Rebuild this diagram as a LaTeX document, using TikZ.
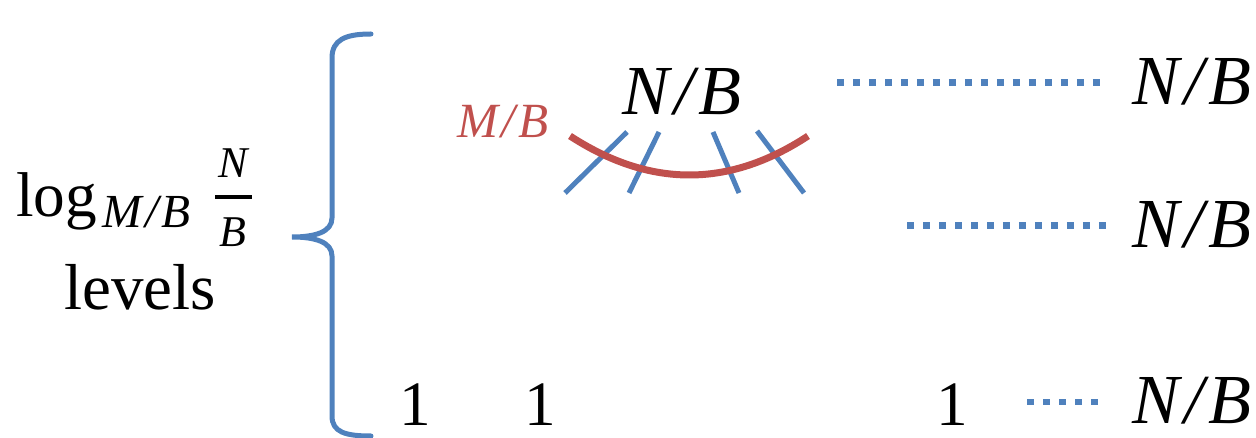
\documentclass[tikz,border=0pt]{standalone}
\usepackage{fontspec}
\setmainfont{Liberation Serif}
\definecolor{oblue}{HTML}{4F81BD}
\definecolor{ored}{HTML}{C0504D}
\newcommand{\myslash}{\kern0.07em/\kern0.07em}
\begin{document}
\begin{tikzpicture}[x=0.02cm,y=-0.02cm,
  txt/.style={inner sep=0pt,anchor=base},
  big/.style={txt,font=\fontsize{40}{48}\selectfont\itshape},
  one/.style={txt,font=\fontsize{36}{44}\selectfont},
  dots/.style={oblue,line width=0.14cm,dash pattern=on 0.14cm off 0.18cm},
  tick/.style={oblue,line width=0.1cm},
  brace/.style={oblue,line width=0.1cm,line cap=round}]
\useasboundingbox (0,0) rectangle (1256,438);
% brace
\draw[brace] (371,34) .. controls (345,34) and (332,40) .. (332,58) -- (332,218)
  .. controls (332,232) and (315,237) .. (292,237)
  .. controls (315,237) and (332,242) .. (332,256) -- (332,416)
  .. controls (332,432) and (345,436) .. (371,436);
% left label
\node[txt,anchor=base west,font=\fontsize{36}{44}\selectfont] (log) at (16,217) {log};
\node[txt,anchor=base west,font=\fontsize{27}{32}\selectfont\itshape] (sub) at (102,228) {M\myslash B};
\node[txt,font=\fontsize{25}{30}\selectfont\itshape] (fn) at (233,178) {N};
\node[txt,font=\fontsize{25}{30}\selectfont\itshape] (fb) at (233,247) {B};
\coordinate (barl) at (215,197);
\coordinate (barr) at (252,197);
\draw[line width=0.08cm] (barl) -- (barr);
\node[txt,font=\fontsize{37}{44}\selectfont] (lev) at (140,310) {levels};
% top node
\node[big] (top) at (682,115) {N\myslash B};
\node[txt,font=\fontsize{28}{34}\selectfont\itshape,text=ored] (mb) at (503,138) {M\myslash B};
% ticks
\coordinate (t1a) at (627,132); \coordinate (t1b) at (565,193);
\coordinate (t2a) at (659,132); \coordinate (t2b) at (629,193);
\coordinate (t3a) at (713,132); \coordinate (t3b) at (739,193);
\coordinate (t4a) at (757,131); \coordinate (t4b) at (804,193);
\draw[tick] (t1a) -- (t1b);
\draw[tick] (t2a) -- (t2b);
\draw[tick] (t3a) -- (t3b);
\draw[tick] (t4a) -- (t4b);
% red curve
\coordinate (ra) at (570,136);
\coordinate (rb) at (808,136);
\draw[ored,line width=0.14cm] (ra) .. controls (650,188) and (729,188) .. (rb);
% right column
\node[big] (r1) at (1192,105) {N\myslash B};
\node[big] (r2) at (1192,248) {N\myslash B};
\node[big] (r3) at (1192,423) {N\myslash B};
\coordinate (d1a) at (837,83); \coordinate (d1b) at (1102,83);
\coordinate (d2a) at (907,226); \coordinate (d2b) at (1108,226);
\coordinate (d3a) at (1027,402); \coordinate (d3b) at (1100,402);
\draw[dots] (d1a) -- (d1b);
\draw[dots] (d2a) -- (d2b);
\draw[dots] (d3a) -- (d3b);
% ones
\node[one] (o1) at (415,425) {1};
\node[one] (o2) at (540,425) {1};
\node[one] (o3) at (952,425) {1};
\end{tikzpicture}
\end{document}
